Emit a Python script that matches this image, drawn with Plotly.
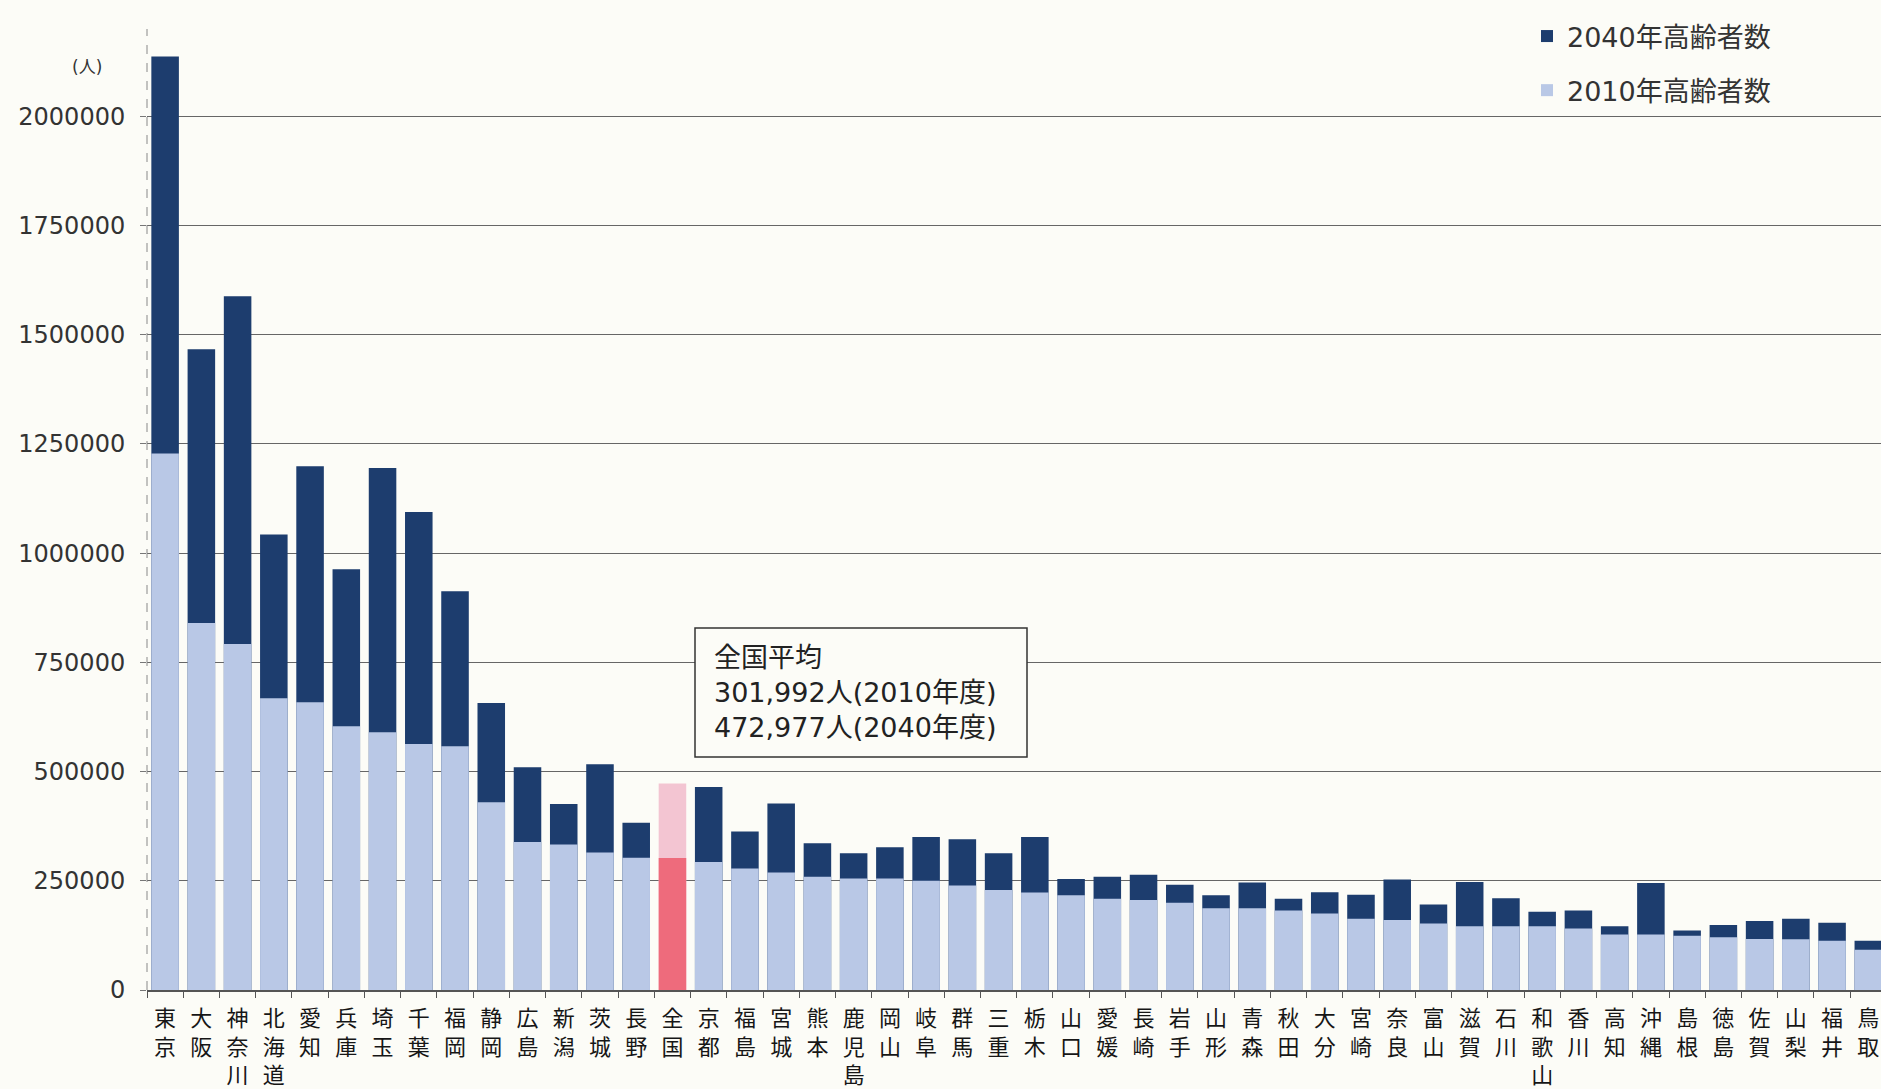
import plotly.graph_objects as go

# ---------------- data ----------------
prefectures = ['東京', '大阪', '神奈川', '北海道', '愛知', '兵庫', '埼玉', '千葉', '福岡', '静岡',
               '広島', '新潟', '茨城', '長野', '全国', '京都', '福島', '宮城', '熊本', '鹿児島',
               '岡山', '岐阜', '群馬', '三重', '栃木', '山口', '愛媛', '長崎', '岩手', '山形',
               '青森', '秋田', '大分', '宮崎', '奈良', '富山', '滋賀', '石川', '和歌山', '香川',
               '高知', '沖縄', '島根', '徳島', '佐賀', '山梨', '福井', '鳥取']

elderly_2010 = [1228000, 840000, 792000, 668000, 659000, 604000, 590000, 563000, 558000, 430000,
                339000, 333000, 315000, 303000, 301992, 293000, 278000, 269000, 259000, 255000,
                255000, 250000, 239000, 229000, 223000, 217000, 209000, 206000, 200000, 187000,
                187000, 182000, 175000, 163000, 160000, 152000, 146000, 146000, 146000, 141000,
                127000, 127000, 124000, 121000, 117000, 116000, 113000, 92000]

elderly_2040 = [2137000, 1467000, 1588000, 1043000, 1199000, 963000, 1195000, 1094000, 913000, 657000,
                510000, 426000, 517000, 383000, 472977, 465000, 363000, 427000, 336000, 313000,
                327000, 350000, 345000, 313000, 350000, 254000, 259000, 264000, 241000, 217000,
                246000, 209000, 224000, 218000, 253000, 196000, 247000, 210000, 179000, 182000,
                146000, 245000, 136000, 149000, 158000, 163000, 154000, 113000]

y_ticks = [0, 250000, 500000, 750000, 1000000, 1250000, 1500000, 1750000, 2000000]
national_label = '全国'
national_note = ['全国平均', '301,992人(2010年度)', '472,977人(2040年度)']
legend_names = ['2040年高齢者数', '2010年高齢者数']

# ---------------- styling ----------------
DARK = '#1d3d6e'
LIGHT = '#b9c8e6'
PINK = '#f3c5d2'
RED = '#ee6b7c'
BG = '#fcfcf7'

W, H = 1881, 1089
ML, MR, MT, MB = 147, 0, 29, 99
PW, PH = W - ML - MR, H - MT - MB


def px_x(px):
    return (px - ML) / PW


def px_y(py):
    return (H - MB - py) / PH


labels = ['<br>'.join(list(p)) for p in prefectures]
colors_2040 = [PINK if p == national_label else DARK for p in prefectures]
colors_2010 = [RED if p == national_label else LIGHT for p in prefectures]

fig = go.Figure()
fig.add_trace(go.Bar(
    x=labels, y=elderly_2040, name=legend_names[0],
    marker=dict(color=colors_2040, line=dict(width=0)),
    legendgroup='a',
))
fig.add_trace(go.Bar(
    x=labels, y=elderly_2010, name=legend_names[1],
    marker=dict(color=colors_2010, line=dict(width=0)),
    legendgroup='b',
))

fig.update_layout(
    width=W, height=H,
    margin=dict(l=ML, r=MR, t=MT, b=MB),
    paper_bgcolor=BG, plot_bgcolor=BG,
    barmode='overlay', bargap=0.24,
    font=dict(family='DejaVu Sans, Noto Sans CJK JP', color='#333333'),
    showlegend=True,
    legend=dict(
        x=px_x(1527), y=px_y(12), xanchor='left', yanchor='top',
        font=dict(size=27, family='DejaVu Sans, Noto Sans CJK JP', color='#333333'),
        bgcolor='rgba(0,0,0,0)', traceorder='grouped', tracegroupgap=16,
        itemsizing='constant',
    ),
    xaxis=dict(
        type='category', range=[-0.5, 47.35],
        tickson='boundaries', ticks='outside', ticklen=6, tickcolor='#555555',
        showline=True, linecolor='#555555', linewidth=1.5,
        showgrid=False,
        tickfont=dict(size=22, family='Noto Sans CJK JP', color='#161616'),
        ticklabelstandoff=8,
    ),
    yaxis=dict(
        range=[0, 2200000], tickvals=y_ticks, tickformat='d',
        ticks='outside', ticklen=6, tickcolor='#777777',
        showgrid=True, gridcolor='#666666', gridwidth=1,
        showline=False, zeroline=False,
        tickfont=dict(size=24, family='DejaVu Sans', color='#333333'),
        ticklabelstandoff=10,
    ),
)

# dashed left axis line
fig.add_shape(type='line', xref='paper', yref='paper', x0=0, x1=0, y0=0, y1=1,
              line=dict(color='#888888', width=1, dash='dash'))

# unit label
fig.add_annotation(text='(人)', xref='paper', yref='paper', x=px_x(87), y=px_y(67),
                   xanchor='center', yanchor='middle', showarrow=False,
                   font=dict(size=17, family='DejaVu Sans, Noto Sans CJK JP', color='#333333'))

# national average note box
fig.add_shape(type='rect', xref='paper', yref='paper',
              x0=px_x(695), x1=px_x(1027), y0=px_y(757), y1=px_y(628),
              line=dict(color='#333333', width=1.5), fillcolor=BG, layer='above')
fig.add_annotation(text='<br>'.join(national_note), xref='paper', yref='paper',
                   x=px_x(712), y=px_y(692), xanchor='left', yanchor='middle',
                   align='left', showarrow=False,
                   font=dict(size=27, family='DejaVu Sans, Noto Sans CJK JP', color='#222222'))

fig.write_html('out.html')
